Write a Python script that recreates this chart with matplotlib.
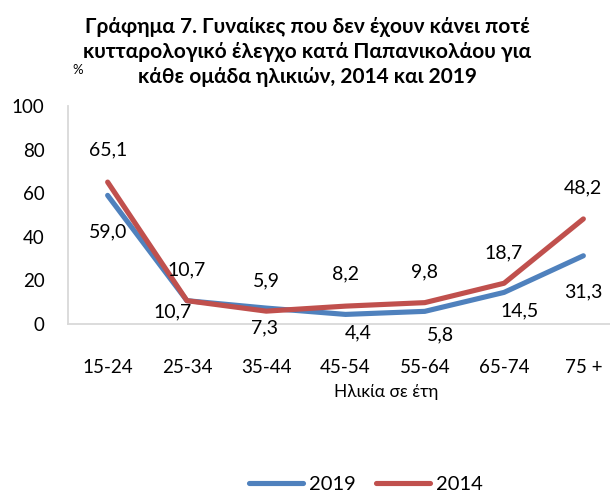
import matplotlib
matplotlib.use("Agg")
import matplotlib.pyplot as plt

plt.rcParams['font.family'] = ['Lato', 'DejaVu Sans']

# data
age_groups = ['15-24', '25-34', '35-44', '45-54', '55-64', '65-74', '75 +']
vals_2019 = [59.0, 10.7, 7.3, 4.4, 5.8, 14.5, 31.3]
vals_2014 = [65.1, 10.7, 5.9, 8.2, 9.8, 18.7, 48.2]

# label offsets (points) - tuned by eye
off_2014 = [(0, 23), (0, 22), (0, 22), (0, 23), (0, 22), (0, 22), (0, 22)]
off_2019 = [(0, -26), (-10, -8), (-1, -14), (9, -13), (11, -17), (11, -13), (0, -26)]

blue = '#4F81BD'
red = '#C0504D'

fig = plt.figure(figsize=(6.1, 4.9), dpi=100)
ax = fig.add_axes([68 / 610, 166 / 490, 555 / 610, 218 / 490])

x = list(range(len(age_groups)))
ax.plot(x, vals_2019, color=blue, lw=3.7, solid_capstyle='round', solid_joinstyle='round', label='2019')
ax.plot(x, vals_2014, color=red, lw=3.7, solid_capstyle='round', solid_joinstyle='round', label='2014')

for i in x:
    ax.annotate(f'{vals_2014[i]:.1f}'.replace('.', ','), (i, vals_2014[i]), xytext=off_2014[i],
                textcoords='offset points', ha='center', va='center', fontsize=14)
    ax.annotate(f'{vals_2019[i]:.1f}'.replace('.', ','), (i, vals_2019[i]), xytext=off_2019[i],
                textcoords='offset points', ha='center', va='center', fontsize=14)

ax.set_xlim(-0.5, 6.5)
ax.set_ylim(0, 100)
ax.set_yticks([0, 20, 40, 60, 80, 100])
ax.set_xticks(x)
ax.set_xticklabels(age_groups)
ax.tick_params(axis='both', length=0, labelsize=13.5)
ax.tick_params(axis='y', pad=17)
ax.tick_params(axis='x', pad=25)

for s in ['top', 'right']:
    ax.spines[s].set_visible(False)
for s in ['left', 'bottom']:
    ax.spines[s].set_color('#D9D9D9')
    ax.spines[s].set_linewidth(1.3)

fig.text(307 / 610, 1 - 52 / 490,
         'Γράφημα 7. Γυναίκες που δεν έχουν κάνει ποτέ\n'
         'κυτταρολογικό έλεγχο κατά Παπανικολάου για\n'
         'κάθε ομάδα ηλικιών, 2014 και 2019',
         ha='center', va='center', fontsize=15, fontweight='bold', linespacing=1.3)
fig.text(78 / 610, 1 - 70 / 490, '%', ha='center', va='center', fontsize=9.5)
fig.text(386 / 610, 1 - 392 / 490, 'Ηλικία σε έτη', ha='center', va='center', fontsize=12.5)

fig.legend(loc='center', bbox_to_anchor=(366 / 610, 1 - 484 / 490), ncol=2, frameon=False,
           fontsize=14.5, handlelength=2.7, handletextpad=0.3, columnspacing=1.0)

fig.savefig('out.png', dpi=100)
